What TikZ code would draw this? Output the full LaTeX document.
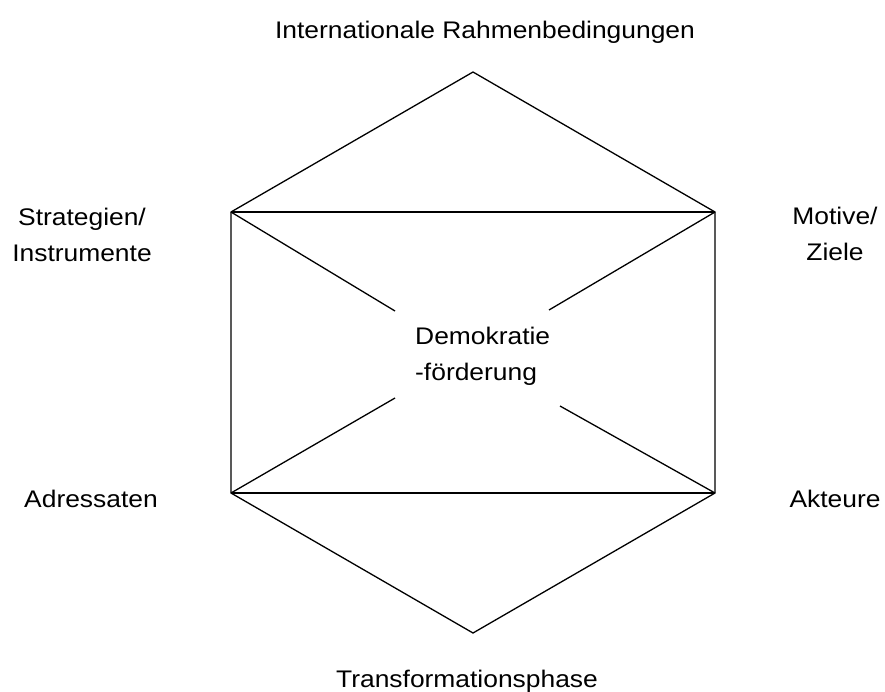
\documentclass[tikz,border=0pt]{standalone}
\usepackage{fontspec}
\setmainfont[FakeStretch=1.1]{Liberation Sans}
\begin{document}
\begin{tikzpicture}[x=1pt,y=-1pt,
  edge/.style={line width=1.3pt, line join=miter},
  lbl/.style={font=\fontsize{24}{35.5}\selectfont, align=center, inner sep=0pt, anchor=base}]
\useasboundingbox (0,0) rectangle (885,691);
\coordinate (T) at (473,72);
\coordinate (UL) at (231,212);
\coordinate (UR) at (715,212);
\coordinate (LL) at (231,493);
\coordinate (LR) at (715,493);
\coordinate (B) at (473,633);
\coordinate (eUL) at (395,311);
\coordinate (eUR) at (549,310);
\coordinate (eLL) at (395,398);
\coordinate (eLR) at (560,406);
\draw[edge] (UL) -- (T) -- (UR) -- (LR) -- (B) -- (LL) -- cycle;
\draw[edge] (UL) -- (UR);
\draw[edge] (LL) -- (LR);
\draw[edge] (UL) -- (eUL);
\draw[edge] (UR) -- (eUR);
\draw[edge] (LL) -- (eLL);
\draw[edge] (LR) -- (eLR);
\node[lbl, align=left, anchor=base west] (c) at (415,380) {Demokratie\\-förderung};
\node[lbl] (top) at (485,38.3) {Internationale Rahmenbedingungen};
\node[lbl] (sl) at (82,261) {Strategien/\\Instrumente};
\node[lbl] (mz) at (835,260) {Motive/\\Ziele};
\node[lbl] (ad) at (91,507) {Adressaten};
\node[lbl] (ak) at (835,507) {Akteure};
\node[lbl] (tp) at (467,687) {Transformationsphase};
\end{tikzpicture}
\end{document}
